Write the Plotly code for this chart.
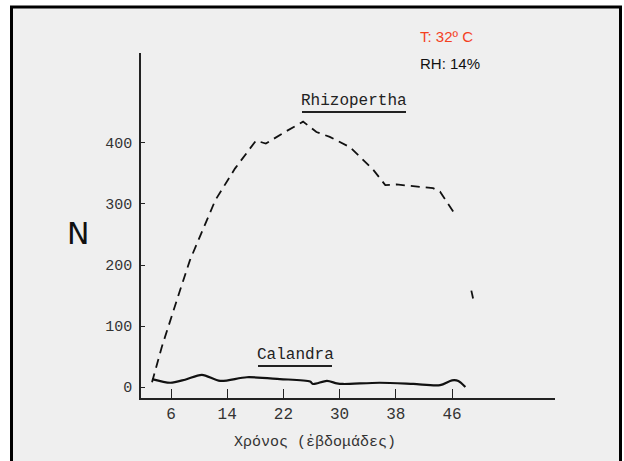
import plotly.graph_objects as go

# ---- data ----
rhizo_weeks = [3.3, 4.7, 7.3, 8.7, 12.3, 15.1, 18.1, 19.5, 22.2, 24.8, 26.7, 28.6, 31.5, 34.8, 36.5, 38.1, 43.3, 44.3, 46.2]
rhizo_vals = [8, 66, 159, 208, 306, 358, 404, 399, 418, 435, 418, 410, 393, 356, 331, 332, 326, 320, 287]
rhizo_tail_weeks = [48.75, 49.0]
rhizo_tail_vals = [158, 145]

cal_weeks = [3.3, 5.9, 8.0, 10.4, 13.0, 16.8, 21.5, 25.8, 26.2, 28.2, 29.6, 30.5, 35.7, 40.5, 44.3, 46.0, 46.9, 47.9]
cal_vals = [13, 7, 12, 20, 10, 16, 13, 9, 5, 10, 6, 5, 7, 5, 3, 11, 10, 0]

x_ticks = [6, 14, 22, 30, 38, 46]
y_ticks = [0, 100, 200, 300, 400]

# ---- layout geometry ----
L, R, T, B = 141, 555, 53, 398
W, H = R - L, B - T


def px(x):
    return (x - L) / W


def py(y):
    return (B - y) / H


MONO = "Liberation Mono, DejaVu Sans Mono, monospace"
SANS = "Liberation Sans, Arial, sans-serif"

fig = go.Figure()
fig.add_trace(go.Scatter(x=rhizo_weeks, y=rhizo_vals, mode="lines",
                         line=dict(color="#111", width=1.8, dash="9px,6px"),
                         showlegend=False, hoverinfo="skip"))
fig.add_trace(go.Scatter(x=rhizo_tail_weeks, y=rhizo_tail_vals, mode="lines",
                         line=dict(color="#111", width=1.8),
                         showlegend=False, hoverinfo="skip"))
fig.add_trace(go.Scatter(x=cal_weeks, y=cal_vals, mode="lines",
                         line=dict(color="#111", width=2.2, shape="spline", smoothing=0.8),
                         showlegend=False, hoverinfo="skip"))

shapes = [
    dict(type="rect", xref="paper", yref="paper", x0=px(11.5), x1=px(620.5), y0=py(7), y1=py(480),
         line=dict(color="black", width=3), fillcolor="#efefef", layer="below"),
    dict(type="line", xref="paper", yref="paper", x0=px(302), x1=px(406), y0=py(112), y1=py(112),
         line=dict(color="#222", width=2)),
    dict(type="line", xref="paper", yref="paper", x0=px(258), x1=px(332), y0=py(366), y1=py(366),
         line=dict(color="#222", width=2)),
]

annotations = [
    dict(text="Rhizopertha", x=px(354), y=py(101), font=dict(family=MONO, size=16, color="#222")),
    dict(text="Calandra", x=px(295), y=py(355), font=dict(family=MONO, size=16, color="#222")),
    dict(text="N", x=px(78), y=py(233), font=dict(family="DejaVu Sans", size=30, color="#111")),
    dict(text="T: 32º C", x=px(418), y=py(37), xanchor="left", font=dict(family=SANS, size=15, color="#f4411f")),
    dict(text="RH: 14%", x=px(418), y=py(63), xanchor="left", font=dict(family=SANS, size=15, color="#111")),
    dict(text="Χρόνος (ἐβδομάδες)", x=px(315), y=py(443), font=dict(family=MONO, size=15, color="#333")),
]
for a in annotations:
    a.update(xref="paper", yref="paper", showarrow=False)
    a.setdefault("xanchor", "center")
    a.setdefault("yanchor", "middle")

fig.update_layout(
    width=624, height=461,
    margin=dict(l=L, r=624 - R, t=T, b=461 - B, pad=0),
    paper_bgcolor="white", plot_bgcolor="rgba(0,0,0,0)",
    shapes=shapes, annotations=annotations,
    xaxis=dict(range=[1.73, 60.66], tickvals=x_ticks, ticktext=[str(v) for v in x_ticks],
               showline=True, linecolor="#222", linewidth=1.5, showgrid=False, zeroline=False,
               ticks="inside", ticklen=9, tickwidth=1.2, tickcolor="#222",
               tickfont=dict(family=MONO, size=16, color="#333")),
    yaxis=dict(range=[-18, 547.5], tickvals=y_ticks, ticktext=[str(v) for v in y_ticks],
               showline=True, linecolor="#222", linewidth=1.5, showgrid=False, zeroline=False,
               ticks="inside", ticklen=4, tickwidth=1.2, tickcolor="#222", ticklabelstandoff=4,
               tickfont=dict(family=MONO, size=15, color="#333")),
)

fig.write_html("out.html")
